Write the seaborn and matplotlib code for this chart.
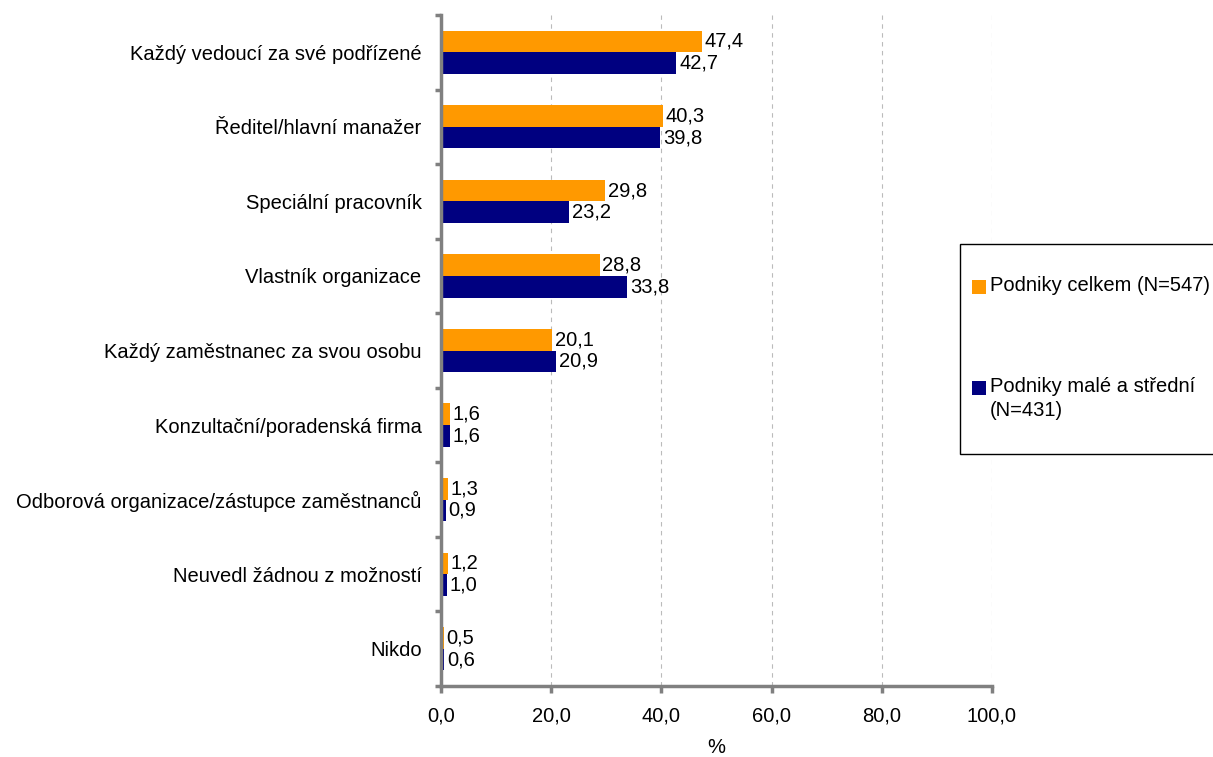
import matplotlib
matplotlib.use("Agg")
import matplotlib.pyplot as plt
import seaborn as sns
import pandas as pd
from matplotlib.patches import Rectangle

categories = [
    "Každý vedoucí za své podřízené",
    "Ředitel/hlavní manažer",
    "Speciální pracovník",
    "Vlastník organizace",
    "Každý zaměstnanec za svou osobu",
    "Konzultační/poradenská firma",
    "Odborová organizace/zástupce zaměstnanců",
    "Neuvedl žádnou z možností",
    "Nikdo",
]
series_names = ["Podniky celkem (N=547)", "Podniky malé a střední\n(N=431)"]
celkem = [47.4, 40.3, 29.8, 28.8, 20.1, 1.6, 1.3, 1.2, 0.5]
male_stredni = [42.7, 39.8, 23.2, 33.8, 20.9, 1.6, 0.9, 1.0, 0.6]
x_ticks = [0, 20, 40, 60, 80, 100]
colors = ["#FF9900", "#000080"]

df = pd.DataFrame({
    "cat": categories * 2,
    "val": celkem + male_stredni,
    "series": [series_names[0]] * len(categories) + [series_names[1]] * len(categories),
})

sns.set_style("white")
plt.rcParams["font.family"] = ["Liberation Sans", "DejaVu Sans"]
plt.rcParams["text.color"] = "black"
plt.rcParams["xtick.color"] = "black"
plt.rcParams["ytick.color"] = "black"
plt.rcParams["axes.labelcolor"] = "black"

FS = 14.5
W, H = 1213, 757

fig = plt.figure(figsize=(W / 100, H / 100), dpi=100)
ax = fig.add_axes([441 / W, 1 - 686 / H, (992 - 441) / W, (686 - 15) / H])

sns.barplot(data=df, y="cat", x="val", hue="series", orient="h", palette=colors,
            width=0.58, ax=ax, legend=False, saturation=1, linewidth=0, edgecolor="none")

for cont, vals in zip(ax.containers, [celkem, male_stredni]):
    ax.bar_label(cont, labels=[f"{v:.1f}".replace(".", ",") for v in vals],
                 padding=2, fontsize=FS, color="black")

ax.set_xlim(0, 100)
ax.set_ylim(len(categories) - 0.5, -0.5)
ax.set_xticks(x_ticks)
ax.set_xticklabels([f"{t:.1f}".replace(".", ",") for t in x_ticks], fontsize=FS)
ax.set_yticks(range(len(categories)))
ax.set_yticklabels(categories, fontsize=FS)
ax.tick_params(axis="y", length=0, pad=14)
ax.tick_params(axis="x", length=0, pad=15)
# boundary ticks on y axis
for b in [i - 0.5 for i in range(len(categories) + 1)]:
    ax.plot([-1.1, 0], [b, b], color="#808080", lw=2.5, clip_on=False, solid_capstyle="butt")
for t in x_ticks:
    ax.plot([t, t], [len(categories) - 0.5, len(categories) - 0.5 + 0.1], color="#808080",
            lw=2.5, clip_on=False, solid_capstyle="butt")

for t in x_ticks[1:]:
    ax.axvline(t, color="#BBBBBB", lw=0.8, ls=(0, (4, 4)), zorder=0)

ax.set_xlabel("%", fontsize=FS, labelpad=9)
ax.set_ylabel("")
for s in ["top", "right"]:
    ax.spines[s].set_visible(False)
for s in ["left", "bottom"]:
    ax.spines[s].set_color("#808080")
    ax.spines[s].set_linewidth(2.5)

# legend box drawn in figure pixel coordinates
def fx(px):
    return px / W

def fy(py):
    return 1 - py / H

fig.patches.append(Rectangle((fx(960), fy(454)), fx(W + 10) - fx(960), fy(244) - fy(454),
                             transform=fig.transFigure, facecolor="white",
                             edgecolor="black", linewidth=1.0, zorder=1))
entry_y = [287, 388]
for c, name, yy in zip(colors, series_names, entry_y):
    fig.patches.append(Rectangle((fx(972), fy(yy + 7)), fx(986) - fx(972), fy(yy - 7) - fy(yy + 7),
                                 transform=fig.transFigure, facecolor=c, edgecolor="none",
                                 zorder=2))
    fig.text(fx(990), fy(yy - 11), name, fontsize=FS, va="top", ha="left",
             linespacing=1.3, zorder=3)

fig.savefig("out.png", dpi=100)
